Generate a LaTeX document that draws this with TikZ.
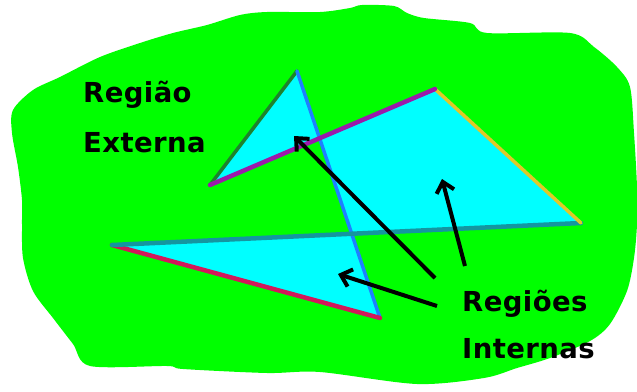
\documentclass[tikz,border=0pt]{standalone}
\usepackage{fontspec}
\usetikzlibrary{arrows.meta}
\newfontfamily\lblfont[LetterSpace=1.5]{DejaVu Sans}
\definecolor{blobgreen}{RGB}{0,255,0}
\definecolor{incyan}{RGB}{0,255,255}
\definecolor{edgegreen}{RGB}{30,130,45}
\definecolor{edgeblue}{RGB}{30,128,255}
\definecolor{edgered}{RGB}{210,24,90}
\definecolor{edgeteal}{RGB}{20,150,160}
\definecolor{edgeyellow}{RGB}{225,200,40}
\definecolor{edgepurple}{RGB}{155,26,170}
\tikzset{
  edge/.style={line width=3.5pt, line cap=round},
  thickedge/.style={line width=4.5pt, line cap=round},
  pointer/.style={line width=4pt, black, -{Straight Barb[length=10pt,width=18pt]}},
  lbl/.style={inner sep=0pt, anchor=base west, font=\lblfont\bfseries\fontsize{27.5pt}{32pt}\selectfont, text=black}
}
\begin{document}
\begin{tikzpicture}[x=1pt,y=-1pt]
\useasboundingbox (0,0) rectangle (637,391);
% green blob (external region)
\fill[blobgreen] plot[smooth cycle, tension=0.5] coordinates {
 (13,110) (33,90) (60,77) (100,57) (140,43) (173,33) (207,25) (240,15) (267,12)
 (320,12) (350,8) (362,5) (394,6) (407,13) (424,18) (470,23) (487,33) (570,33)
 (594,47) (617,67) (630,87) (634,133) (637,187) (637,224) (634,258) (627,291)
 (610,324) (590,341) (550,358) (517,368) (484,378) (417,384) (320,372) (267,373)
 (183,369) (167,366) (90,366) (73,344) (53,318) (33,291) (23,258) (22,224)
 (22,200) (18,167) (12,133)};
% polygon vertices
\coordinate (A) at (210,185);
\coordinate (B) at (297,71);
\coordinate (C) at (380,318);
\coordinate (D) at (112,245);
\coordinate (E) at (581,223);
\coordinate (F) at (435,89);
% internal regions
\fill[incyan, even odd rule] (A) -- (B) -- (C) -- (D) -- (E) -- (F) -- cycle;
% edges
\draw[edge, edgegreen] (A) -- (B);
\draw[edge, edgeblue] (B) -- (C);
\draw[thickedge, edgered] (C) -- (D);
\draw[thickedge, edgeteal] (D) -- (E);
\draw[edge, edgeyellow] (E) -- (F);
\draw[thickedge, edgepurple] (F) -- (A);
% arrows
\coordinate (t1) at (435,278);
\coordinate (h1) at (294,136);
\coordinate (t2) at (465,266);
\coordinate (h2) at (442,179);
\coordinate (t3) at (437,306);
\coordinate (h3) at (338,274);
\draw[pointer] (t1) -- (h1);
\draw[pointer] (t2) -- (h2);
\draw[pointer] (t3) -- (h3);
% labels
\node[lbl] (ext1) at (83,102) {Região};
\node[lbl] (ext2) at (83,152) {Externa};
\node[lbl] (int1) at (462,311) {Regiões};
\node[lbl] (int2) at (462,358) {Internas};
\end{tikzpicture}
\end{document}
